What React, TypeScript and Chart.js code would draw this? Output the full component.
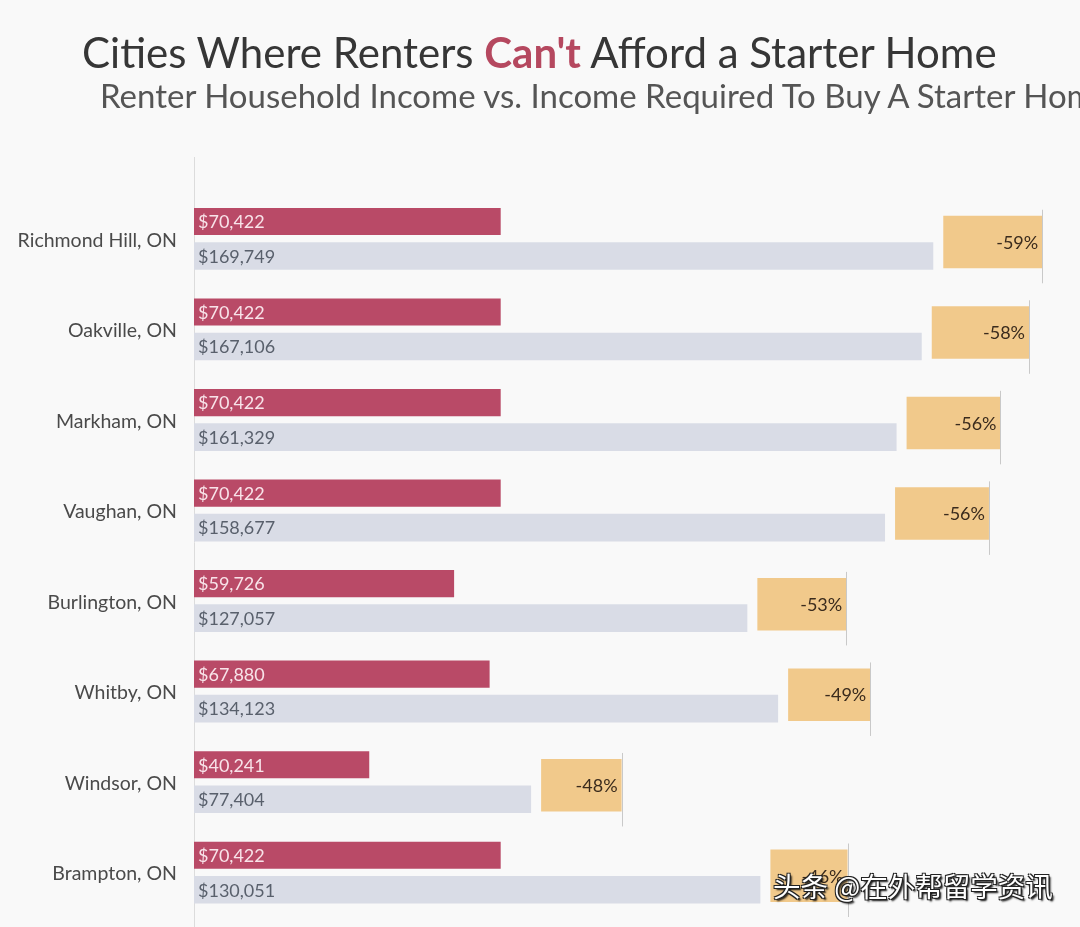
import React, { useEffect, useRef } from "react";
import { Chart, registerables } from "chart.js";

Chart.register(...registerables);

// ---- data ----
const cities = [
  "Richmond Hill, ON",
  "Oakville, ON",
  "Markham, ON",
  "Vaughan, ON",
  "Burlington, ON",
  "Whitby, ON",
  "Windsor, ON",
  "Brampton, ON",
];
const renterIncome = [70422, 70422, 70422, 70422, 59726, 67880, 40241, 70422];
const requiredIncome = [169749, 167106, 161329, 158677, 127057, 134123, 77404, 130051];
const gapPercent = [-59, -58, -56, -56, -53, -49, -48, -46];

// ---- styling constants ----
const FONT = "Lato";
const BG = "#f9f9f9";
const RED = "#b94a67";
const GRAY = "#d9dce6";
const ORANGE = "#f1c98b";
const X_MAX = 200000;
const BOX_GAP = 2300; // gap (in $ units) between grey bar and the % box
const BOX_PER_PCT = 385; // box length per percent point
const Y_MIN = -0.903;
const Y_MAX = 7.602;
const RENTER_SHIFT = 0.1905; // renter bar sits above the category centre
const REQUIRED_SHIFT = -0.1905; // required bar sits below
const BOX_SHIFT = -0.036; // % box sits slightly below

const fmt = (v: number) => "$" + v.toLocaleString("en-US");
const indexTicks = (s: any) => {
  s.ticks = cities.map((_, i) => ({ value: i }));
};
const hiddenAxis = (shift: number) => ({
  type: "linear",
  reverse: true,
  offset: false,
  min: Y_MIN + shift,
  max: Y_MAX + shift,
  display: false,
  grid: { display: false, offset: false },
  afterBuildTicks: indexTicks,
});

const labelPlugin = {
  id: "barLabels",
  afterDatasetsDraw(chart: any) {
    const ctx = chart.ctx;
    ctx.save();
    chart.data.datasets.forEach((ds: any, di: number) => {
      const meta = chart.getDatasetMeta(di);
      meta.data.forEach((el: any, i: number) => {
        const { x, y, base, height } = el.getProps(["x", "y", "base", "height"], true);
        ctx.font = `18px ${FONT}`;
        ctx.textBaseline = "middle";
        if (ds.kind === "renter") {
          ctx.fillStyle = "#f8e3e9";
          ctx.textAlign = "left";
          ctx.fillText(fmt(renterIncome[i]), base + 4, y + 1);
        } else if (ds.kind === "required") {
          ctx.fillStyle = "#59606c";
          ctx.textAlign = "left";
          ctx.fillText(fmt(requiredIncome[i]), base + 4, y + 1);
        } else if (ds.kind === "gap") {
          ctx.strokeStyle = "#c9c9c9";
          ctx.lineWidth = 1;
          ctx.beginPath();
          ctx.moveTo(Math.round(x) + 0.5, y - height / 2 - 6);
          ctx.lineTo(Math.round(x) + 0.5, y + height / 2 + 15);
          ctx.stroke();
          ctx.fillStyle = "#3a2b1d";
          ctx.textAlign = "right";
          ctx.fillText(`${gapPercent[i]}%`, x - 4, y + 1);
        }
      });
    });
    ctx.restore();
  },
};

export default function App() {
  const ref = useRef<HTMLCanvasElement | null>(null);

  useEffect(() => {
    if (!ref.current) return;
    const chart = new Chart(ref.current, {
      type: "bar",
      data: {
        datasets: [
          {
            kind: "renter",
            label: "Renter Household Income",
            data: renterIncome.map((v, i) => ({ x: v, y: i })),
            backgroundColor: RED,
            grouped: false,
            categoryPercentage: 1,
            barPercentage: 0.3,
            yAxisID: "yRenter",
          } as any,
          {
            kind: "required",
            label: "Income Required",
            data: requiredIncome.map((v, i) => ({ x: v, y: i })),
            backgroundColor: GRAY,
            grouped: false,
            categoryPercentage: 1,
            barPercentage: 0.305,
            yAxisID: "yRequired",
          } as any,
          {
            kind: "gap",
            label: "Gap",
            data: requiredIncome.map((v, i) => ({
              x: [v + BOX_GAP, v + BOX_GAP + Math.abs(gapPercent[i]) * BOX_PER_PCT],
              y: i,
            })),
            backgroundColor: ORANGE,
            grouped: false,
            categoryPercentage: 1,
            barPercentage: 0.58,
            yAxisID: "yGap",
          } as any,
        ],
      },
      options: {
        indexAxis: "y",
        responsive: false,
        maintainAspectRatio: false,
        animation: false,
        events: [],
        layout: { padding: { top: 157, right: 15, bottom: 0, left: 0 } },
        plugins: {
          legend: { display: false },
          tooltip: { enabled: false },
          title: { display: false },
        },
        scales: {
          x: {
            type: "linear",
            min: 0,
            max: X_MAX,
            display: false,
            grid: { display: false },
          },
          y: {
            type: "linear",
            reverse: true,
            offset: false,
            min: Y_MIN,
            max: Y_MAX,
            position: "left",
            grid: { display: false, drawTicks: true, tickLength: 17, offset: false },
            border: { display: true, color: "#dcdcdc", width: 1 },
            afterBuildTicks: indexTicks,
            afterFit: (s: any) => {
              s.width = 194;
              s.paddingTop = 0;
              s.paddingBottom = 0;
            },
            ticks: {
              padding: 0,
              labelOffset: 1.5,
              color: "#4a4a4a",
              font: { family: FONT, size: 19.5 },
              callback: (v: any) => cities[v] ?? "",
            },
          },
          yRenter: hiddenAxis(RENTER_SHIFT),
          yRequired: hiddenAxis(REQUIRED_SHIFT),
          yGap: hiddenAxis(BOX_SHIFT),
        },
      } as any,
      plugins: [labelPlugin],
    });
    return () => chart.destroy();
  }, []);

  return (
    <div
      style={{
        position: "fixed",
        left: 0,
        top: 0,
        width: 1080,
        height: 927,
        overflow: "hidden",
        background: BG,
        fontFamily: FONT,
      }}
    >
      <canvas ref={ref} width={1080} height={927} style={{ position: "absolute", left: 0, top: 0 }} />
      <div
        style={{
          position: "absolute",
          left: 82,
          top: 31,
          fontSize: 42,
          lineHeight: "42px",
          color: "#363636",
          whiteSpace: "nowrap",
        }}
      >
        Cities Where Renters <span style={{ color: "#b5485f", fontWeight: 700 }}>Can't</span> Afford a Starter Home
      </div>
      <div
        style={{
          position: "absolute",
          left: 100,
          top: 79,
          fontSize: 33,
          lineHeight: "32px",
          color: "#555",
          whiteSpace: "nowrap",
        }}
      >
        Renter Household Income vs. Income Required To Buy A Starter Home
      </div>
      <div
        style={{
          position: "absolute",
          left: 773,
          top: 867,
          fontSize: 27.5,
          lineHeight: "36px",
          color: "#fff",
          whiteSpace: "nowrap",
          fontFamily: "'Noto Sans CJK SC'",
          textShadow:
            "1px 1px 0 #222, -1px -1px 0 #222, 1px -1px 0 #222, -1px 1px 0 #222, 2px 2px 2px #000",
        }}
      >
        头条 @在外帮留学资讯
      </div>
    </div>
  );
}
